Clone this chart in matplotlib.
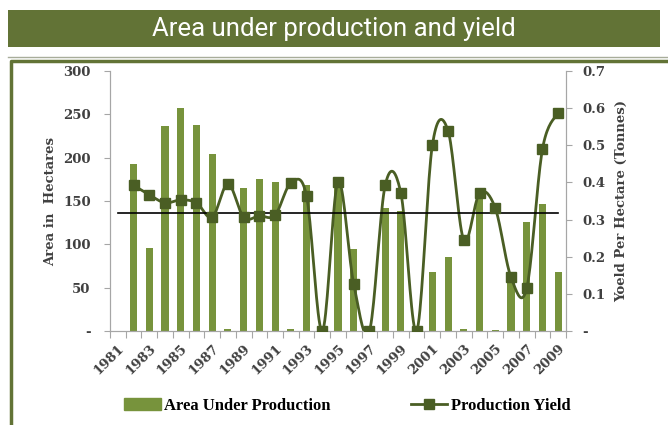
import numpy as np
import matplotlib.pyplot as plt
from matplotlib.patches import Rectangle
from matplotlib.lines import Line2D

years = list(range(1981, 2010))
area = [0, 193, 96, 237, 257, 238, 204, 2, 165, 175, 172, 2, 169, 0,
        175, 95, 0, 142, 138, 0, 68, 85, 2, 157, 1, 65, 126, 147, 68]
yield_t = [np.nan, 0.392, 0.367, 0.345, 0.353, 0.345, 0.306, 0.396, 0.306,
           0.310, 0.312, 0.398, 0.363, 0.0, 0.402, 0.126, 0.0, 0.392, 0.371,
           0.0, 0.500, 0.539, 0.245, 0.371, 0.331, 0.145, 0.115, 0.489, 0.588]
ref_line = 0.318

bar_color = "#77933c"
line_color = "#4a5e24"
olive = "#627336"
serif = "DejaVu Serif"
txt = "#404040"


def smooth(x, y, n=20):
    # Excel-like smoothed line (uniform Catmull-Rom as cubic Bezier)
    x = np.asarray(x, float)
    y = np.asarray(y, float)
    px = np.concatenate([[x[0]], x, [x[-1]]])
    py = np.concatenate([[y[0]], y, [y[-1]]])
    xs, ys = [], []
    t = np.linspace(0, 1, n)
    for i in range(1, len(px) - 2):
        p0 = np.array([px[i], py[i]])
        p3 = np.array([px[i + 1], py[i + 1]])
        c1 = p0 + (p3 - np.array([px[i - 1], py[i - 1]])) / 6
        c2 = p3 - (np.array([px[i + 2], py[i + 2]]) - p0) / 6
        b = ((1 - t) ** 3)[:, None] * p0 + (3 * (1 - t) ** 2 * t)[:, None] * c1 \
            + (3 * (1 - t) * t ** 2)[:, None] * c2 + (t ** 3)[:, None] * p3
        xs.extend(b[:, 0])
        ys.extend(b[:, 1])
    return xs, ys


fig = plt.figure(figsize=(6.68, 4.25), dpi=100)

# title banner
fig.patches.append(Rectangle((8 / 668, 1 - 47 / 425), 652 / 668, 37 / 425,
                             transform=fig.transFigure, facecolor=olive,
                             edgecolor="none"))
fig.text(0.5, 1 - 29 / 425, "Area under production and yield", color="white",
         fontsize=18.5, family="Roboto", ha="center", va="center")
fig.add_artist(Line2D([8 / 668, 1], [1 - 57 / 425] * 2, color="#a8ad9a", lw=1,
                      transform=fig.transFigure))
# chart frame
fig.add_artist(Line2D([11 / 668, 11 / 668, 1], [-0.01, 1 - 61 / 425, 1 - 61 / 425],
                      color=olive, lw=2.5, transform=fig.transFigure))

ax = fig.add_axes([110 / 668, 1 - 331 / 425, 456 / 668, 260 / 425])
x = np.arange(len(years))
ax.bar(x, area, width=0.45, color=bar_color, zorder=2)
ax.set_ylim(0, 300)
ax.set_xlim(-0.5, len(years) - 0.5)

ax2 = ax.twinx()
ax2.set_ylim(0, 0.7)
valid = [i for i, v in enumerate(yield_t) if not np.isnan(v)]
sx, sy = smooth([x[i] for i in valid], [yield_t[i] for i in valid])
ax2.plot(sx, sy, color=line_color, lw=2, zorder=3)
ax2.plot([x[i] for i in valid], [yield_t[i] for i in valid], ls="none",
         marker="s", ms=7, color=line_color, zorder=4)
ax2.plot([0, len(years) - 1], [ref_line, ref_line], color="black", lw=1.2, zorder=3)

for a in (ax, ax2):
    a.spines["top"].set_visible(False)
    for s in ("left", "right", "bottom"):
        a.spines[s].set_color("#a6a6a6")

ax.set_yticks(range(0, 301, 50))
ax.set_yticklabels(["-"] + [str(v) for v in range(50, 301, 50)])
ax2.set_yticks(np.arange(0, 0.71, 0.1))
ax2.set_yticklabels(["-"] + ["%.1f" % v for v in np.arange(0.1, 0.71, 0.1)])
ax.tick_params(axis="y", length=4, color="#a6a6a6", pad=10)
ax2.tick_params(axis="y", length=4, color="#a6a6a6", pad=8)
for lab in ax.get_yticklabels() + ax2.get_yticklabels():
    lab.set_fontfamily(serif)
    lab.set_fontweight("bold")
    lab.set_fontsize(9.5)
    lab.set_color(txt)

ax.set_xticks(np.arange(-0.5, len(years), 1))
ax.set_xticklabels([])
ax.tick_params(axis="x", which="major", length=5, color="#a6a6a6")
ax.set_xticks(x[::2], minor=True)
ax.set_xticklabels([str(y) for y in years[::2]], minor=True, rotation=45,
                   ha="right", va="top", rotation_mode="anchor",
                   fontfamily=serif, fontweight="bold", fontsize=9.5, color=txt)
ax.tick_params(axis="x", which="minor", length=0, pad=8)

ax.set_ylabel("Area in  Hectares", fontfamily=serif, fontweight="bold",
              fontsize=9.5, color=txt, labelpad=4)
ax2.set_ylabel("Yoeld Per Hectare (Tonnes)", fontfamily=serif, fontweight="bold",
               fontsize=9.5, color=txt, labelpad=7)

handles = [Rectangle((0, 0), 1, 1, color=bar_color),
           Line2D([], [], color=line_color, lw=2, marker="s", ms=7)]
fig.legend(handles, ["Area Under Production", "Production Yield"], ncol=2,
           loc="center", bbox_to_anchor=(0.52, 1 - 406 / 425), frameon=False,
           prop={"family": "Liberation Serif", "weight": "bold", "size": 12},
           columnspacing=4.8, handlelength=2.2, handletextpad=0.2)

fig.savefig("out.png", dpi=100)
